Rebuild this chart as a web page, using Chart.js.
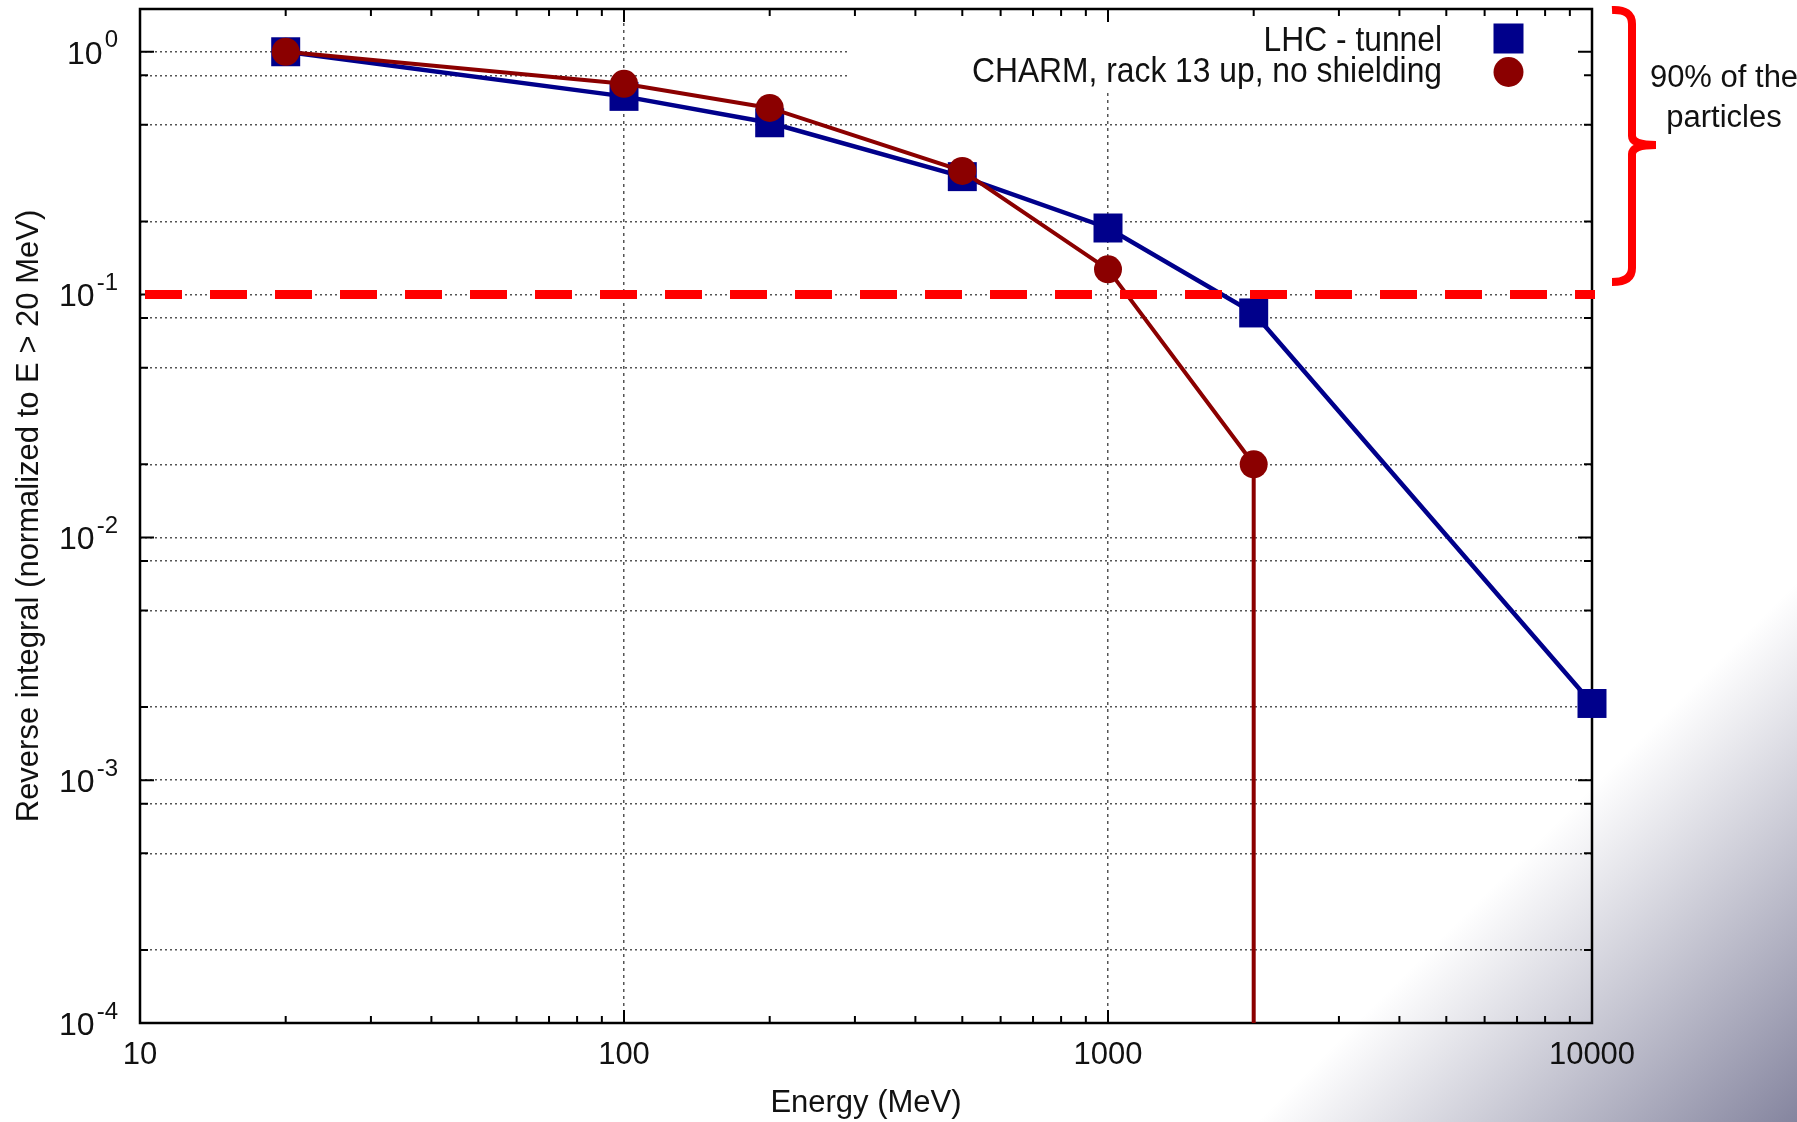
<!DOCTYPE html>
<html>
<head>
<meta charset="utf-8">
<script src="https://cdn.jsdelivr.net/npm/chart.js@4.4.1/dist/chart.umd.min.js"></script>
<style>
html,body{margin:0;padding:0;}
body{width:1797px;height:1122px;overflow:hidden;background:linear-gradient(135deg,#ffffff 0%,#ffffff 81.5%,#85859f 100%);}
#wrap{position:relative;width:1797px;height:1122px;}
</style>
</head>
<body>
<div id="wrap"><canvas id="myChart"></canvas></div>
<script>
// values
const lhcEnergy = [20, 100, 200, 500, 1000, 2000, 10000]
const lhcTunnel = [1.0, 0.655, 0.51, 0.306, 0.188, 0.084, 0.00207]
const charmEnergy = [20, 100, 200, 500, 1000, 2000, 2000]
const charmRack13 = [1.0, 0.738, 0.587, 0.323, 0.127, 0.020, 0.0001]

const seriesNames = ['LHC - tunnel', 'CHARM, rack 13 up, no shielding']
const xTickValues = [10, 20, 30, 40, 50, 60, 70, 80, 90,
    100, 200, 300, 400, 500, 600, 700, 800, 900,
    1000, 2000, 3000, 4000, 5000, 6000, 7000, 8000, 9000, 10000]
const xLabelValues = [10, 100, 1000, 10000]
const yTickValues = [0.0001, 0.0002, 0.0005, 0.0008,
    0.001, 0.002, 0.005, 0.008,
    0.01, 0.02, 0.05, 0.08,
    0.1, 0.2, 0.5, 0.8, 1]
const yLabelValues = [0.0001, 0.001, 0.01, 0.1, 1]
const threshold = 0.1
const noteLines = ['90% of the', 'particles']

const FONT = '"Liberation Sans", Arial, Helvetica, sans-serif'
const NAVY = '#00008b'
const DARKRED = '#8b0000'

Chart.defaults.font.family = FONT
Chart.defaults.color = '#111'

const xy = (xs, ys) => xs.map((x, i) => ({x: x, y: ys[i]}))

const gnuplotDecor = {
    id: 'gnuplotDecor',
    beforeDatasetsDraw(chart) {
        const ctx = chart.ctx
        const a = chart.chartArea
        const xs = chart.scales.x, ys = chart.scales.y
        ctx.save()
        // key box hides the grid underneath
        ctx.fillStyle = '#fff'
        ctx.fillRect(848, a.top, a.right - 848, 83)
        // border
        ctx.strokeStyle = '#000'
        ctx.lineWidth = 2.5
        ctx.strokeRect(a.left, a.top, a.right - a.left, a.bottom - a.top)
        // inward tics on all four sides
        ctx.lineWidth = 2
        ctx.beginPath()
        xs.ticks.forEach(t => {
            const px = xs.getPixelForValue(t.value)
            const len = xLabelValues.includes(t.value) ? 13 : 7
            ctx.moveTo(px, a.bottom); ctx.lineTo(px, a.bottom - len)
            ctx.moveTo(px, a.top); ctx.lineTo(px, a.top + len)
        })
        ys.ticks.forEach(t => {
            const py = ys.getPixelForValue(t.value)
            const len = yLabelValues.includes(t.value) ? 14 : 8
            ctx.moveTo(a.left, py); ctx.lineTo(a.left + len, py)
            ctx.moveTo(a.right, py); ctx.lineTo(a.right - len, py)
        })
        ctx.stroke()
        ctx.restore()
    },
    afterDatasetsDraw(chart) {
        const ctx = chart.ctx
        const a = chart.chartArea
        const ys = chart.scales.y
        ctx.save()
        // 10% threshold
        const ty = ys.getPixelForValue(threshold)
        ctx.strokeStyle = '#ff0000'
        ctx.lineWidth = 9
        ctx.setLineDash([37, 28])
        ctx.beginPath()
        ctx.moveTo(a.left + 5, ty); ctx.lineTo(a.right + 3, ty)
        ctx.stroke()
        ctx.setLineDash([])

        // key, in the tall narrow face of the original
        ctx.fillStyle = '#111'
        ctx.font = '35px ' + FONT
        const sx = 470 / ctx.measureText(seriesNames[1]).width
        ctx.save()
        ctx.translate(1442, 0)
        ctx.scale(sx, 1)
        ctx.textAlign = 'right'
        ctx.textBaseline = 'alphabetic'
        ctx.fillText(seriesNames[0], 0, 51)
        ctx.fillText(seriesNames[1], 0, 82)
        ctx.restore()
        ctx.fillStyle = NAVY
        ctx.fillRect(1508.5 - 15, 38.5 - 15, 30, 30)
        ctx.fillStyle = DARKRED
        ctx.beginPath(); ctx.arc(1508.5, 72, 15, 0, Math.PI * 2); ctx.fill()

        // y tick labels as 10^n
        ctx.fillStyle = '#111'
        ctx.textBaseline = 'middle'
        yLabelValues.forEach(v => {
            const py = ys.getPixelForValue(v)
            const ex = String(Math.round(Math.log10(v)))
            ctx.font = '24px ' + FONT
            const ew = ctx.measureText(ex).width
            ctx.textAlign = 'left'
            ctx.fillText(ex, a.left - 22 - ew, py - 11)
            ctx.font = '32px ' + FONT
            ctx.textAlign = 'right'
            ctx.fillText('10', a.left - 24 - ew, py + 3)
        })

        // brace + note
        ctx.strokeStyle = '#ff0000'
        ctx.lineWidth = 8
        ctx.lineJoin = 'round'
        ctx.beginPath()
        ctx.moveTo(1612, 10)
        ctx.quadraticCurveTo(1632, 9, 1632, 24)
        ctx.lineTo(1632, 136)
        ctx.quadraticCurveTo(1632, 145, 1656, 145)
        ctx.moveTo(1656, 145)
        ctx.quadraticCurveTo(1632, 145, 1632, 154)
        ctx.lineTo(1632, 268)
        ctx.quadraticCurveTo(1632, 282, 1612, 282)
        ctx.stroke()
        ctx.fillStyle = '#111'
        ctx.font = '31px ' + FONT
        ctx.textAlign = 'center'
        ctx.textBaseline = 'alphabetic'
        ctx.fillText(noteLines[0], 1724, 87)
        ctx.fillText(noteLines[1], 1724, 127)
        ctx.restore()
    }
}

const ctx = document.getElementById('myChart').getContext('2d')
const myChart = new Chart(ctx, {
    type: 'line',
    data: {
        datasets: [{
            label: seriesNames[0],
            data: xy(lhcEnergy, lhcTunnel),
            borderColor: NAVY,
            backgroundColor: NAVY,
            borderWidth: 4.5,
            pointStyle: 'rect',
            pointRadius: 20.5,
            pointBorderWidth: 0,
            tension: 0,
            clip: false,
            order: 2
        }, {
            label: seriesNames[1],
            data: xy(charmEnergy, charmRack13),
            borderColor: DARKRED,
            backgroundColor: DARKRED,
            borderWidth: 4,
            pointStyle: 'circle',
            pointRadius: [14, 14, 14, 14, 14, 14, 0],
            pointBorderWidth: 0,
            tension: 0,
            clip: false,
            order: 1
        }]
    },
    options: {
        responsive: true,
        maintainAspectRatio: false,
        animation: false,
        events: [],
        layout: {autoPadding: false, padding: {top: 9, right: 205, left: 0, bottom: 0}},
        plugins: {legend: {display: false}, tooltip: {enabled: false}},
        scales: {
            x: {
                type: 'logarithmic',
                min: 10,
                max: 10000,
                afterBuildTicks: s => { s.ticks = xTickValues.map(v => ({value: v})) },
                afterFit: s => { s.height = 99 },
                grid: {
                    color: c => (c.tick && (c.tick.value === 100 || c.tick.value === 1000)) ? '#555' : 'rgba(0,0,0,0)',
                    lineWidth: 1.5,
                    borderDash: [3, 4],
                    drawTicks: false
                },
                border: {display: false, dash: [3, 4]},
                ticks: {
                    autoSkip: false,
                    maxRotation: 0,
                    padding: 14,
                    font: {size: 31},
                    color: '#111',
                    callback: v => xLabelValues.includes(v) ? String(v) : ''
                },
                title: {
                    display: true,
                    text: 'Energy (MeV)',
                    font: {size: 31},
                    color: '#111',
                    padding: {top: 0, bottom: 0}
                }
            },
            y: {
                type: 'logarithmic',
                min: 0.0001,
                max: 1.5,
                afterBuildTicks: s => { s.ticks = yTickValues.map(v => ({value: v})) },
                afterFit: s => { s.width = 140 },
                grid: {
                    color: '#555',
                    lineWidth: 1.5,
                    borderDash: [2, 3],
                    drawTicks: false
                },
                border: {display: false, dash: [2, 3]},
                ticks: {display: false},
                title: {
                    display: true,
                    text: 'Reverse integral (normalized to E > 20 MeV)',
                    font: {size: 31},
                    color: '#111',
                    padding: {top: 11, bottom: 0}
                }
            }
        }
    },
    plugins: [gnuplotDecor]
})
</script>
</body>
</html>
